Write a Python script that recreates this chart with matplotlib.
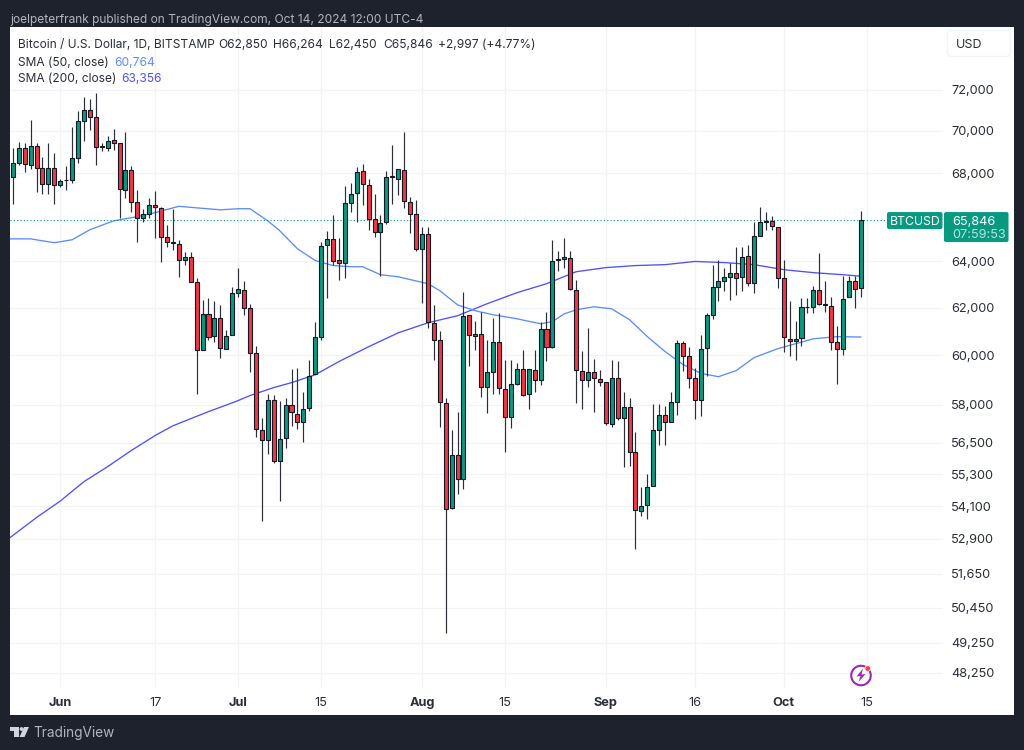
import matplotlib
matplotlib.use('Agg')
import matplotlib.pyplot as plt
from matplotlib.patches import Rectangle, FancyBboxPatch, Arc, Polygon, Circle

# day index: 0 = May 24 2024, 143 = Oct 14 2024
opens = [67840, 68470, 69170, 68400, 69280, 68240, 67490, 68230, 67430, 67680, 67680, 68710,
         70470, 71020, 70680, 69270, 69200, 69560, 69410, 67230, 68160, 66680, 65940, 66100,
         66540, 66400, 65080, 64880, 64770, 64050, 64180, 63100, 60210, 61730, 60800, 61560,
         60270, 60830, 62630, 62760, 61980, 60110, 56990, 56600, 58210, 55820, 56680, 58000,
         57650, 57320, 57880, 59230, 60760, 64710, 65000, 64050, 63920, 66630, 67100, 68090,
         67470, 65890, 65310, 65740, 67830, 67750, 68160, 66680, 66100, 64560, 65220, 61360,
         60640, 58090, 54040, 56020, 55130, 61670, 60810, 60880, 58700, 59340, 60550, 58640,
         57530, 58850, 59450, 58420, 59420, 58980, 61110, 60350, 64050, 64120, 64170, 62760,
         59380, 59000, 59330, 59050, 58920, 57250, 59080, 57480, 57930, 56160, 53930, 54130,
         54870, 57020, 57600, 57330, 58130, 60500, 59990, 59090, 58180, 60290, 61710, 62880,
         63130, 63320, 63490, 63300, 64230, 63080, 65110, 65760, 65800, 65540, 63270, 60700,
         60600, 60720, 62010, 62010, 62770, 62160, 62060, 60540, 60250, 62470, 63140, 62850]
highs = [69170, 69490, 69410, 70530, 69440, 68770, 69440, 68930, 67740, 68340, 70210, 70990,
         71640, 71540, 71840, 69440, 69760, 70080, 69410, 69940, 68350, 67220, 66340, 66860,
         67190, 66460, 65630, 66370, 64960, 64420, 64420, 63270, 62340, 62410, 62300, 62110,
         61070, 62870, 63730, 63140, 62150, 60370, 57480, 58440, 58410, 58170, 58260, 59450,
         59500, 58530, 59830, 61380, 64870, 65350, 66070, 65030, 67400, 67530, 68310, 68420,
         67720, 67040, 66090, 68120, 69330, 68180, 69940, 66890, 66740, 65510, 65510, 62120,
         61030, 58280, 57020, 57720, 62680, 61670, 61450, 61800, 60650, 61560, 61770, 59830,
         59800, 59690, 60240, 59450, 60240, 61380, 61800, 64930, 64450, 65030, 64450, 63200,
         60170, 61140, 59860, 59390, 58920, 59830, 59760, 58500, 58280, 56940, 54820, 55290,
         58050, 58050, 57970, 58530, 60650, 60610, 60360, 59500, 60860, 61770, 63860, 64070,
         63710, 63930, 64660, 64660, 64740, 65780, 66430, 66190, 66040, 65540, 64080, 62300,
         61420, 62410, 62410, 62940, 64380, 63130, 62450, 61210, 63380, 63380, 63380, 66264]
lows = [66570, 68380, 68070, 68180, 67130, 67040, 67040, 66570, 67340, 67220, 67540, 68490,
        69540, 70050, 68380, 69060, 69060, 69090, 65960, 66860, 66190, 64880, 65780, 65960,
        65040, 63980, 64640, 64490, 63320, 63860, 63110, 58440, 60210, 60650, 60540, 59880,
        60270, 60830, 62440, 61700, 59310, 56720, 53570, 56060, 55730, 54290, 56300, 57150,
        57050, 56530, 57740, 59230, 60650, 62410, 63860, 63170, 63270, 66220, 65780, 66540,
        65410, 65080, 63380, 65680, 66590, 67000, 66390, 65260, 64450, 62200, 61140, 59830,
        57120, 49600, 53980, 54560, 54750, 59550, 60240, 58300, 57660, 58420, 58440, 56150,
        57090, 58810, 58370, 57840, 58530, 58810, 59760, 60310, 63570, 63710, 62770, 58080,
        57850, 58700, 57700, 58740, 57200, 57120, 57380, 55580, 55630, 52540, 53730, 53640,
        54840, 56440, 56440, 57330, 57610, 59380, 58690, 57450, 57570, 59140, 61540, 62300,
        62700, 62340, 62550, 62700, 62910, 62630, 65110, 65380, 65410, 62830, 60130, 59960,
        59830, 60410, 61770, 61770, 62120, 61800, 60240, 58850, 60000, 62450, 61980, 62450]
closes = [68470, 69170, 68420, 69290, 68240, 67490, 68240, 67430, 67630, 67690, 68710, 70470,
          71020, 70690, 69250, 69240, 69540, 69410, 67250, 68160, 66680, 65940, 66120, 66540,
          66420, 65080, 64880, 64800, 64050, 64180, 63110, 60210, 61730, 60780, 61570, 60290,
          60820, 62610, 62780, 61980, 60110, 57030, 56600, 58210, 55810, 56660, 58000, 57700,
          57320, 57850, 59170, 60760, 64700, 65000, 64040, 63920, 66630, 67050, 68070, 67490,
          65890, 65310, 65710, 67840, 67860, 68180, 66720, 66120, 64560, 65220, 61390, 60640,
          58120, 54000, 56020, 55130, 61630, 60830, 60890, 58700, 59310, 60550, 58680, 57530,
          58840, 59450, 58400, 59450, 58980, 61100, 60350, 64020, 64110, 64200, 62810, 59410,
          59000, 59330, 59080, 58930, 57280, 59080, 57460, 57920, 56160, 53940, 54120, 54830,
          57010, 57610, 57320, 58130, 60500, 59980, 59090, 58180, 60280, 61700, 62880, 63130,
          63320, 63490, 63290, 64200, 63080, 65110, 65740, 65800, 65560, 63260, 60760, 60600,
          60680, 62010, 62040, 62760, 62170, 62100, 60550, 60250, 62390, 63140, 62810, 65846]
candle_days = list(range(len(closes)))

sma200_days = [-1, 4, 8, 12, 16, 20, 24, 27, 30, 33, 36, 38, 40, 44, 47, 51, 55, 60, 65, 70,
               75, 80, 85, 90, 95, 100, 105, 110, 115, 120, 125, 130, 135, 140, 143]
sma200 = [52860, 53680, 54290, 55020, 55590, 56210, 56790, 57170, 57450, 57730, 57990, 58170,
          58370, 58690, 58890, 59210, 59750, 60360, 60940, 61360, 61660, 62170, 62640, 63030,
          63550, 63730, 63820, 63860, 64000, 63950, 63860, 63640, 63510, 63420, 63356]
sma50_days = [-1, 3, 7, 10, 13, 17, 21, 24, 28, 31, 35, 38, 40, 43, 45, 48, 51, 54, 57, 59, 62,
              65, 70, 72, 75, 78, 81, 85, 89, 91, 93, 95, 98, 101, 104, 107, 110, 113, 116,
              119, 122, 125, 129, 135, 139, 143]
sma50 = [65000, 65000, 64830, 64960, 65410, 65810, 66000, 66180, 66470, 66400, 66310, 66360,
         66360, 65810, 65370, 64560, 64040, 63820, 63770, 63770, 63420, 63330, 63030, 62730,
         62120, 61870, 61700, 61530, 61320, 61410, 61740, 61910, 62040, 61950, 61490, 60780,
         60160, 59630, 59270, 59130, 59380, 59910, 60280, 60690, 60780, 60764]

price_ticks = [72000, 70000, 68000, 64000, 62000, 60000, 58000, 56500, 55300, 54100, 52900,
               51650, 50450, 49250, 48250]
date_days = [8, 24, 38, 52, 69, 83, 100, 115, 130, 144]
date_labels = ['Jun', '17', 'Jul', '15', 'Aug', '15', 'Sep', '16', 'Oct', '15']
months = ('Jun', 'Jul', 'Aug', 'Sep', 'Oct')

DARK_BG = '#1e222d'
GRID = '#f2f3f7'
TEXT = '#2a2e39'
GREEN = '#089981'
RED = '#f23645'
FONT = 'Inter'
W, H = 1024, 750
PLOT_L, PLOT_R, PLOT_T, PLOT_B = 10, 943, 27, 688

plt.rcParams['font.family'] = FONT
plt.rcParams['font.size'] = 9.2

fig = plt.figure(figsize=(W / 100, H / 100), dpi=100, facecolor=DARK_BG)

# white panel behind everything
bg = fig.add_axes([0, 0, 1, 1], zorder=0)
bg.set_xlim(0, W)
bg.set_ylim(H, 0)
bg.axis('off')
bg.add_patch(Rectangle((10, 27), 1004, 688, facecolor='white', edgecolor='none'))

ax = fig.add_axes([PLOT_L / W, 1 - PLOT_B / H, (PLOT_R - PLOT_L) / W, (PLOT_B - PLOT_T) / H],
                  zorder=1)
ax.set_facecolor('white')
ax.set_yscale('log')
ax.set_xlim((PLOT_L - 12.8) / 5.93, (PLOT_R - 12.8) / 5.93)
ax.set_ylim(47750, 75180)
for s in ax.spines.values():
    s.set_visible(False)

ax.set_yticks(price_ticks)
ax.set_yticklabels([f'{p:,}' for p in price_ticks], color=TEXT, fontsize=9.2, va='center_baseline')
ax.yaxis.tick_right()
ax.minorticks_off()
ax.set_xticks(date_days)
ax.set_xticklabels(date_labels, color=TEXT, fontsize=9.2)
for lab in ax.get_xticklabels():
    if lab.get_text() in months:
        lab.set_fontweight('bold')
ax.tick_params(axis='both', length=0)
ax.tick_params(axis='x', pad=6.2)
ax.tick_params(axis='y', pad=6)
ax.grid(True, color=GRID, linewidth=0.9)
ax.set_axisbelow(True)

ax.plot(sma200_days, sma200, color='#4f4fff', linewidth=0.95, zorder=2)
ax.plot(sma50_days, sma50, color='#5b8cff', linewidth=0.95, zorder=2)
ax.axhline(closes[-1], color=GREEN, linewidth=0.8, linestyle=(0, (1, 2)), zorder=2)

# candles
ax.vlines(candle_days, lows, highs, color='#2b2e36', linewidth=0.85, zorder=3)
body_colors = [GREEN if c >= o else RED for o, c in zip(opens, closes)]
bottoms = [min(o, c) for o, c in zip(opens, closes)]
heights = [abs(c - o) for o, c in zip(opens, closes)]
ax.bar(candle_days, heights, bottom=bottoms, width=0.68, color=body_colors,
       edgecolor='#131722', linewidth=0.8, zorder=4)

# overlay in pixel coordinates for the TradingView chrome
top = fig.add_axes([0, 0, 1, 1], zorder=2)
top.set_xlim(0, W)
top.set_ylim(H, 0)
top.axis('off')
top.patch.set_alpha(0)


def label(x, y, s, color=TEXT, size=8.6, ha='left', **kw):
    top.text(x, y, s, color=color, fontsize=size, ha=ha, va='center_baseline', **kw)


label(10, 18, 'joelpeterfrank published on TradingView.com, Oct 14, 2024 12:00 UTC-4',
      color='#b2b5be', size=8.6)
label(18, 44, 'Bitcoin / U.S. Dollar, 1D, BITSTAMP')
label(218, 44, 'O62,850')
label(273, 44, 'H66,264')
label(329, 44, 'L62,450')
label(383, 44, 'C65,846')
label(438, 44, '+2,997 (+4.77%)')
label(18, 61, 'SMA (50, close)')
label(114, 61, '60,764', color='#5b8cff')
label(18, 78, 'SMA (200, close)')
label(121, 78, '63,356', color='#4f4fff')

top.add_patch(FancyBboxPatch((949, 32), 60, 23, boxstyle='round,pad=1.5,rounding_size=4',
                             facecolor='white', edgecolor='#f0f3fa', linewidth=1))
label(956, 43, 'USD', size=9)

# last price tags follow the close on the price scale
fig.canvas.draw()
close_y = H - ax.transData.transform((0, closes[-1]))[1]
top.add_patch(FancyBboxPatch((887.5, close_y - 7.5), 54.5, 16,
                             boxstyle='round,pad=0.5,rounding_size=2',
                             facecolor=GREEN, edgecolor='none'))
top.add_patch(FancyBboxPatch((944.5, close_y - 7.5), 63.5, 29,
                             boxstyle='round,pad=0.5,rounding_size=2',
                             facecolor=GREEN, edgecolor='none'))
label(915, close_y + 0.5, 'BTCUSD', color='white', ha='center', size=8.8)
label(952, close_y + 0.5, f'{closes[-1]:,}', color='white', size=9.2)
label(952, close_y + 13.5, '07:59:53', color='#b9e3da', size=9.2)

# lightning icon
purple = '#9c27b0'
top.add_patch(Arc((861, 675.5), 19.5, 19.5, theta1=-60, theta2=300, color=purple, linewidth=1.5))
top.add_patch(Polygon([(863, 668.5), (856.5, 676.5), (860.5, 676), (858.5, 682), (865.5, 674),
                       (861.5, 674.5)], closed=True, facecolor=purple, edgecolor='none'))
top.add_patch(Circle((867.7, 668.5), 2.8, facecolor='#ff3b4e', edgecolor='white', linewidth=0.5))

# TradingView logo
logo = '#d1d4dc'
top.add_patch(Polygon([(10, 727), (19, 727), (19, 737), (14, 737), (14, 731), (10, 731)],
                      closed=True, facecolor=logo, edgecolor='none'))
top.add_patch(Circle((21.5, 729), 1.9, facecolor=logo, edgecolor='none'))
top.add_patch(Polygon([(24, 727), (29, 727), (24.5, 737), (19.5, 737)],
                      closed=True, facecolor=logo, edgecolor='none'))
label(33, 732, 'TradingView', color='#b2b5be', size=9.8)

fig.savefig('out.png', dpi=100, facecolor=DARK_BG)
plt.close(fig)
